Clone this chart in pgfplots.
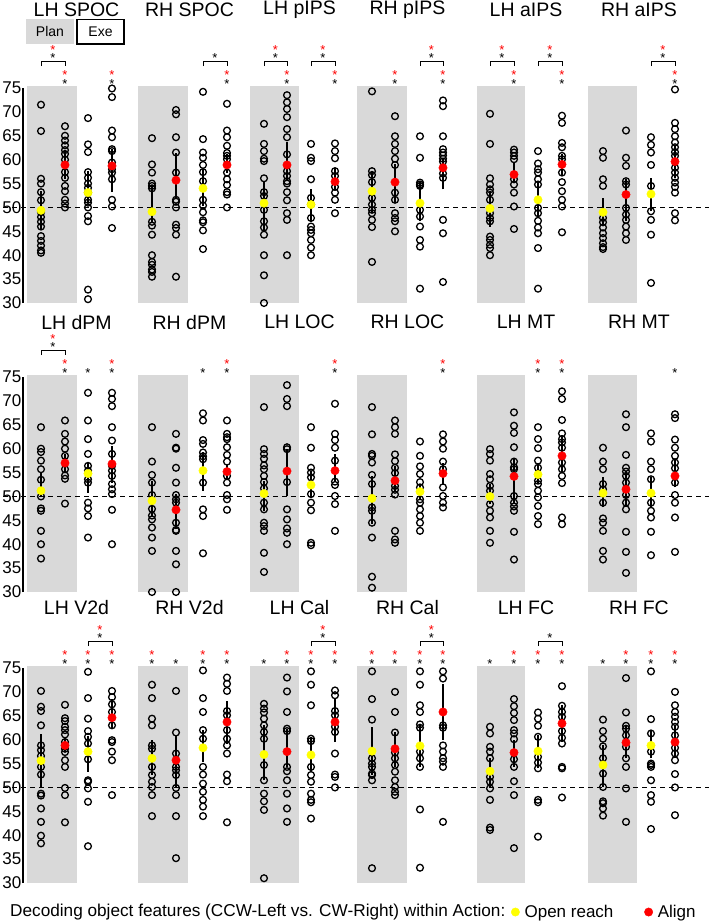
\documentclass[border=0pt]{standalone}
\usepackage{pgfplots}
\pgfplotsset{compat=1.18}
\usepackage{fontspec}
\setmainfont{Liberation Sans}

\definecolor{shadegray}{HTML}{D9D9D9}
\definecolor{meanyel}{HTML}{FFFF00}
\definecolor{meanred}{HTML}{FF0000}

\pgfplotsset{
  row/.style={
    scale only axis, width=686pt, height=215pt,
    xmin=23, xmax=709, ymin=30, ymax=75,
    clip=false, axis x line=none, axis y line=left,
    axis line style={-, line width=1.3pt},
    ytick={30,35,...,75}, major tick length=0pt,
    yticklabel style={font=\fontsize{17}{20}\selectfont, inner sep=1.5pt},
    /pgf/number format/assume math mode=true,
    anchor=south west,
  },
  pts/.style={only marks, mark=o, mark size=3.4pt, black, mark options={line width=1.3pt}, forget plot},
  ebar/.style={black, line width=1.5pt, no marks, forget plot},
  mean/.style={only marks, mark=*, mark size=4.2pt, mark options={draw=none}, forget plot},
  shd/.style={fill=shadegray, draw=none, no marks, forget plot},
  dsh/.style={black, line width=1.3pt, dash pattern=on 5pt off 4pt, no marks, forget plot},
}
\tikzset{
  star/.style={font=\fontsize{13}{13}\selectfont, inner sep=0pt, yshift=-3pt},
  ttl/.style={font=\fontsize{19.5}{22}\selectfont},
  brk/.style={line width=1pt},
}
% one column of subjects
\newcommand{\pts}[2]{\addplot[pts] table[x expr=#1, y index=0, header=false, row sep=\\] {#2};}
% x, lower, mean, upper, colour
\newcommand{\avg}[5]{\addplot[ebar] coordinates {(#1,#2) (#1,#4)};
  \addplot[mean, #5] coordinates {(#1,#3)};}
\newcommand{\planbox}[2]{\addplot[shd] coordinates {(#1,30) (#2,30) (#2,75.5) (#1,75.5)};}
\newcommand{\planrow}{\planbox{27}{77}\planbox{138}{188}\planbox{250}{299}\planbox{357}{407}\planbox{477}{525}\planbox{588}{637}}
\newcommand{\chance}{\addplot[dsh] coordinates {(3,50) (709,50)};}
% stars
\newcommand{\sB}[1]{\node[star] at (axis cs:#1,76.5) {*};}
\newcommand{\sRB}[1]{\sB{#1}\node[star, text=meanred] at (axis cs:#1,78.3) {*};}
\newcommand{\bB}[3]{\draw[brk] (axis cs:#1,79.6) |- (axis cs:#2,80.6) -- (axis cs:#2,79.6);
  \node[star] at (axis cs:#3,82) {*};}
\newcommand{\bRB}[3]{\bB{#1}{#2}{#3}\node[star, text=meanred] at (axis cs:#3,83.6) {*};}

\begin{document}
\begin{tikzpicture}
\useasboundingbox (0,0) rectangle (709pt,-922pt);

%% ---------------- row 1
\begin{axis}[row, at={(23pt,-303pt)}]
  \planrow
  \chance
  % LH SPOC
  \pts{41}{71.5\\66\\56\\55\\53.2\\51.5\\49\\48\\47\\46\\44\\43\\42\\41\\40.5\\}
  \pts{65}{67\\65\\64\\63\\62\\61.2\\60\\57.4\\56.2\\54.5\\53.4\\51.6\\50.8\\50\\}
  \pts{88}{68.7\\63.2\\61.6\\57.4\\56.2\\55\\54.1\\53.1\\51.6\\51\\50\\48.2\\47.1\\32.8\\30.8\\}
  \pts{112}{74.9\\73.1\\66.1\\64.7\\62.2\\61.8\\59.4\\58\\57.3\\55.9\\51.6\\50.2\\45.7\\}
  \avg{41}{45.3}{49.4}{53.4}{meanyel}
  \avg{65}{55.9}{58.9}{61.8}{meanred}
  \avg{88}{51}{53.1}{57.6}{meanyel}
  \avg{112}{53.2}{58.7}{62.3}{meanred}
  % RH SPOC
  \pts{152}{64.5\\59\\57.3\\55\\54.5\\54\\47\\46.2\\44.3\\40\\38.6\\38\\37\\36.5\\35.5\\}
  \pts{176}{70.4\\69.5\\64.7\\61.5\\57.3\\51.6\\51.2\\50\\46.4\\45.7\\44.3\\35.5\\}
  \pts{203}{74.2\\64.3\\61.5\\60.4\\58.9\\57.4\\55.5\\51.6\\50.4\\49\\47.3\\46.9\\45.2\\41.3\\}
  \pts{227}{71.7\\66.1\\64.7\\62.9\\61.4\\60.8\\60.1\\57.3\\55.9\\54.7\\53.2\\52.7\\50\\}
  \avg{152}{47}{49.1}{54.8}{meanyel}
  \avg{176}{51.8}{55.7}{61.4}{meanred}
  \avg{203}{50.2}{54}{58}{meanyel}
  \avg{227}{57.3}{58.9}{61.1}{meanred}
  % LH pIPS
  \pts{264}{67.5\\63.3\\61.8\\60.2\\59.7\\56.1\\53.2\\52.4\\49.5\\47.1\\45.8\\44.3\\40\\35.8\\30\\}
  \pts{287}{73.5\\72\\70.6\\68.9\\66.4\\64.7\\61.1\\57.6\\56.6\\55.5\\55\\53.2\\51.5\\48.8\\47.4\\40\\}
  \pts{311}{63.3\\60.4\\59.7\\55.9\\52\\50.6\\47.8\\46\\45.3\\44.6\\43.2\\41.6\\40\\}
  \pts{335}{63.4\\61.8\\60.3\\57.6\\56.6\\54.3\\53.1\\51.6\\48.8\\}
  \avg{264}{45.3}{50.9}{55.5}{meanyel}
  \avg{287}{55.5}{58.9}{63.7}{meanred}
  \avg{311}{47.1}{50.6}{53.9}{meanyel}
  \avg{335}{53.8}{55.4}{58.3}{meanred}
  % RH pIPS
  \pts{372}{74.3\\57.6\\56.8\\55.3\\52\\50.6\\49.5\\48.8\\47.4\\45.9\\38.6\\}
  \pts{395}{69.1\\64.9\\63.3\\61.8\\60.2\\58.9\\53.1\\51.6\\48.8\\47.8\\47.1\\45\\}
  \pts{420}{64.9\\60.4\\55.2\\54.8\\54.5\\49.5\\48.1\\46\\43.2\\41.8\\33\\}
  \pts{443}{72.4\\71.2\\64.9\\62.2\\61.5\\60.9\\60.2\\59.6\\57.1\\56.2\\47.4\\44.6\\34.4\\}
  \avg{372}{48.8}{53.4}{57.6}{meanyel}
  \avg{395}{51}{55.3}{59}{meanred}
  \avg{420}{47.1}{50.9}{55.2}{meanyel}
  \avg{443}{53.8}{58.3}{60.1}{meanred}
  % LH aIPS
  \pts{490}{69.6\\63.3\\56.1\\54.8\\53.8\\53.1\\51.6\\48.8\\47.8\\47.1\\43.9\\43.2\\42.2\\41.5\\40\\}
  \pts{514}{62.1\\61.5\\60.8\\60.1\\55.9\\54.8\\53.1\\50.2\\45.5\\}
  \pts{538}{61.8\\59.2\\58\\57.3\\55.9\\54.8\\49.9\\48.8\\47.2\\45.8\\44.6\\41.5\\33\\}
  \pts{562}{69.2\\67.7\\63.5\\62.6\\60.8\\60.1\\57.3\\55.3\\53.4\\51.6\\50.2\\44.8\\}
  \avg{490}{46}{49.8}{53.4}{meanyel}
  \avg{514}{55.3}{56.9}{59.4}{meanred}
  \avg{538}{47.8}{51.6}{55.5}{meanyel}
  \avg{562}{56.6}{59}{61.1}{meanred}
  % RH aIPS
  \pts{603}{61.8\\60.4\\55.9\\54.5\\47.8\\46.9\\45.8\\44.6\\43.6\\42.5\\41.7\\41.3\\}
  \pts{626}{66.1\\60.4\\58.7\\55.5\\54.8\\49.9\\48.5\\47.4\\46\\44.6\\43.2\\}
  \pts{651}{64.7\\63.1\\61.5\\58.9\\54.5\\49.2\\47.4\\44.3\\34.2\\}
  \pts{675}{74.7\\67.7\\66.4\\64.9\\63.6\\62.6\\61.6\\60.8\\58.3\\57.3\\56.2\\55.2\\54.3\\53.1\\48.8\\47.3\\}
  \avg{603}{46.4}{49}{52}{meanyel}
  \avg{626}{47.1}{52.7}{55.9}{meanred}
  \avg{651}{49.2}{52.8}{56.2}{meanyel}
  \avg{675}{56.2}{59.6}{62.9}{meanred}
  % Plan / Exe key
  \fill[shadegray] (axis cs:26,84.2) rectangle (axis cs:74,89.4);
  \node[font=\fontsize{14}{16}\selectfont] at (axis cs:50,86.8) {Plan};
  \draw[line width=1.3pt] (axis cs:77,84.2) rectangle (axis cs:124,89.4);
  \node[font=\fontsize{14}{16}\selectfont] at (axis cs:100.5,86.8) {Exe};
  % titles
  \node[ttl] at (axis cs:76.5,91.3) {LH SPOC};
  \node[ttl] at (axis cs:189.5,91.3) {RH SPOC};
  \node[ttl] at (axis cs:299.5,91.3) {LH pIPS};
  \node[ttl] at (axis cs:407.5,91.3) {RH pIPS};
  \node[ttl] at (axis cs:526,91.3) {LH aIPS};
  \node[ttl] at (axis cs:639,91.3) {RH aIPS};
  % significance
  \bRB{41}{65}{53}\sRB{65}\sRB{112}
  \bB{203}{227}{215}\sRB{227}
  \bRB{264}{287}{275.5}\sRB{287}\bRB{311}{335}{323}\sRB{335}
  \sRB{395}\bRB{420}{443}{431.5}\sRB{443}
  \bRB{490}{514}{502}\sRB{514}\bRB{538}{562}{550}\sRB{562}
  \bRB{651}{675}{663}\sRB{675}
\end{axis}

%% ---------------- row 2
\begin{axis}[row, at={(23pt,-592pt)}]
  \planrow
  \chance
  % LH dPM
  \pts{41}{64.5\\60\\59.3\\57.5\\55.7\\53.5\\50\\47.5\\47\\42.8\\40\\37\\}
  \pts{65}{65.9\\63.1\\61.5\\60\\58.5\\55.7\\54.4\\53.7\\48.5\\}
  \pts{88}{71.7\\65.9\\62\\58.9\\56.4\\55.4\\53.6\\52.9\\48.7\\47.5\\45.9\\41.4\\}
  \pts{112}{71.7\\70.4\\68.9\\64.5\\61.7\\58.9\\56.4\\55.4\\54.3\\52.6\\51.5\\50.5\\47.2\\40\\}
  \avg{41}{49.8}{51.2}{55.1}{meanyel}
  \avg{65}{55}{57}{58.9}{meanred}
  \avg{88}{50.8}{54.8}{57.1}{meanyel}
  \avg{112}{52.9}{56.8}{60.6}{meanred}
  % RH dPM
  \pts{152}{64.5\\57.3\\54.5\\52.9\\50.3\\47.4\\46\\45.2\\43.5\\41.4\\38.6\\30\\}
  \pts{176}{63.1\\60.2\\60\\56\\52.9\\50.3\\49.4\\48.7\\44.5\\43\\42.8\\38.6\\35.8\\30\\}
  \pts{203}{67.4\\65.9\\61.8\\61\\59.2\\58.4\\57.8\\52.9\\47.3\\45.9\\38.1\\}
  \pts{227}{65.9\\63.1\\62.4\\62\\60.3\\58.7\\57.3\\54.3\\52.9\\50.3\\49.4\\47.2\\}
  \avg{152}{45.9}{49.1}{53.3}{meanyel}
  \avg{176}{43.1}{47.2}{50.5}{meanred}
  \avg{203}{51.2}{55.4}{59.4}{meanyel}
  \avg{227}{53.6}{55.2}{56.8}{meanred}
  % LH LOC
  \pts{264}{68.7\\59.9\\58.9\\57.9\\56.5\\55.7\\54.3\\53\\51.7\\48.7\\47.3\\44.5\\43.8\\42.8\\38.2\\34.2\\}
  \pts{287}{73.3\\70.4\\68.9\\60.3\\59.9\\53\\47.3\\45.2\\43.3\\42.4\\40\\}
  \pts{311}{64.5\\60.2\\56\\55\\54\\50.5\\48.7\\47.1\\40.3\\39.8\\}
  \pts{335}{69.4\\63.1\\61.8\\60.2\\57.5\\53.1\\52.4\\50.1\\48.4\\42.8\\}
  \avg{264}{47}{50.6}{53.3}{meanyel}
  \avg{287}{50.1}{55.3}{59.9}{meanred}
  \avg{311}{49.8}{52.4}{55.4}{meanyel}
  \avg{335}{53.3}{55.4}{58.9}{meanred}
  % RH LOC
  \pts{372}{68.7\\63\\58.9\\58.5\\57.1\\54.5\\52.6\\47.7\\47\\44.5\\41.4\\33.2\\30.9\\}
  \pts{395}{65.9\\64.5\\63.1\\58.8\\57.4\\56\\54.9\\52.2\\51.4\\50.4\\42.8\\41\\40.3\\}
  \pts{420}{61.5\\58.5\\56.3\\54.7\\53\\51.9\\49.4\\48.7\\47.3\\45.9\\44.5\\42.8\\}
  \pts{443}{63\\61.5\\60\\57.3\\55.7\\51.9\\50.1\\48.7\\47.7\\}
  \avg{372}{44.2}{49.6}{54.3}{meanyel}
  \avg{395}{51.2}{53.3}{56.4}{meanred}
  \avg{420}{49.4}{51}{52.2}{meanyel}
  \avg{443}{52.6}{54.8}{57.1}{meanred}
  % LH MT
  \pts{490}{59.9\\58.9\\57.5\\54.7\\53.6\\52.2\\51.2\\48.4\\47\\45.6\\42.8\\40.3\\}
  \pts{514}{67.6\\64.8\\63.3\\60.3\\57.3\\56.1\\55.7\\50.1\\48.7\\47.9\\47\\42.6\\36.8\\}
  \pts{538}{64.5\\62\\60.1\\57.5\\56\\53.3\\52.6\\51.2\\49.8\\48\\45.9\\44.2\\}
  \pts{562}{72\\70.4\\66\\63.2\\62\\61.3\\60.2\\57.1\\55.7\\54.3\\52.8\\45.6\\44.2\\}
  \avg{490}{48.4}{50}{52.6}{meanyel}
  \avg{514}{48.7}{54.2}{57.8}{meanred}
  \avg{538}{52.6}{54.6}{56.8}{meanyel}
  \avg{562}{55}{58.5}{62.8}{meanred}
  % RH MT
  \pts{603}{60.2\\57.3\\55.7\\52.6\\51.5\\48.7\\45.4\\44.5\\42.8\\38.6\\36.8\\}
  \pts{626}{67.2\\64.5\\58.7\\56\\55.2\\54.3\\52.9\\50.3\\48.7\\47.3\\42.6\\38.4\\34\\}
  \pts{651}{63.2\\61.5\\57.3\\55.7\\53.6\\48.7\\47\\45.6\\42.6\\37.7\\}
  \pts{675}{67.2\\66.4\\61.9\\60.2\\58.5\\57.1\\55.9\\52.9\\50.3\\48.7\\45.6\\38.4\\}
  \avg{603}{47.7}{50.7}{54}{meanyel}
  \avg{626}{48}{51.5}{55.4}{meanred}
  \avg{651}{47.7}{50.7}{54}{meanyel}
  \avg{675}{51.9}{54.3}{57.8}{meanred}
  % titles
  \node[ttl] at (axis cs:76.5,86.5) {LH dPM};
  \node[ttl] at (axis cs:189.5,86.5) {RH dPM};
  \node[ttl] at (axis cs:299.5,86.5) {LH LOC};
  \node[ttl] at (axis cs:407.5,86.5) {RH LOC};
  \node[ttl] at (axis cs:526,86.5) {LH MT};
  \node[ttl] at (axis cs:639,86.5) {RH MT};
  % significance
  \bRB{41}{65}{53}\sRB{65}\sB{88}\sRB{112}
  \sB{203}\sRB{227}
  \sRB{335}
  \sRB{443}
  \sRB{538}\sRB{562}
  \sB{675}
\end{axis}

%% ---------------- row 3
\begin{axis}[row, at={(23pt,-883pt)},
  legend style={at={(axis description cs:0.707,-0.135)}, anchor=west, draw=none, fill=none,
    font=\fontsize{17}{20}\selectfont, legend columns=-1,
    /tikz/every odd column/.append style={column sep=3pt},
    /tikz/every even column/.append style={column sep=29pt}}]
  \planrow
  \chance
  % LH V2d
  \pts{41}{70.2\\66.9\\66\\63\\58.8\\57.8\\56.6\\54.3\\52.7\\48.7\\48.3\\45.6\\42.8\\39.9\\38.3\\}
  \pts{65}{67.3\\64.5\\63.9\\62.7\\62\\61.1\\59.5\\58.1\\57.4\\55.7\\54.3\\49.9\\48.4\\42.7\\}
  \pts{88}{74.2\\68.7\\64.4\\61.8\\60.6\\59.2\\55.9\\51.5\\51.2\\49.8\\47\\37.7\\}
  \pts{112}{70.2\\68.9\\67.4\\65.8\\63\\59.9\\59.5\\57.5\\55.7\\48.4\\}
  \avg{41}{50.1}{55.6}{61.1}{meanyel}
  \avg{65}{57.5}{58.8}{60.6}{meanred}
  \avg{88}{53.3}{57.5}{60.8}{meanyel}
  \avg{112}{62.3}{64.6}{68.5}{meanred}
  % RH V2d
  \pts{152}{71.5\\68.7\\64.4\\63\\58.8\\58.1\\54.3\\52.6\\51.2\\50.1\\48.4\\44\\}
  \pts{176}{70.2\\61.5\\57.1\\54.3\\53.6\\52.6\\49.9\\48.4\\44\\35.2\\}
  \pts{203}{74.5\\68.7\\65.8\\62\\60.2\\54.3\\52.7\\50.8\\49.1\\47.4\\46\\44\\}
  \pts{227}{73\\71.7\\70.2\\66\\65.1\\62\\60.2\\58.8\\57.1\\52.7\\51.3\\42.7\\}
  \avg{152}{52.6}{56.1}{59.9}{meanyel}
  \avg{176}{50.1}{55.7}{60.9}{meanred}
  \avg{203}{55.4}{58.3}{62}{meanyel}
  \avg{227}{59.2}{63.7}{68.2}{meanred}
  % LH Cal
  \pts{264}{67.5\\66.5\\65.7\\64.4\\63\\61.6\\60.2\\54.7\\51.5\\48.7\\47.1\\45.3\\31\\}
  \pts{287}{73\\70.1\\65.8\\62.3\\61.8\\54.3\\53.4\\51.5\\48.7\\45.6\\42.8\\}
  \pts{311}{74.3\\71.5\\67.2\\60.2\\59.7\\54.3\\52.6\\51.2\\48.7\\47.4\\46.9\\43.5\\}
  \pts{335}{70.3\\69.3\\66\\65.1\\62.7\\61.6\\57.1\\52.7\\52.2\\50\\}
  \avg{264}{51.5}{56.9}{63}{meanyel}
  \avg{287}{54.3}{57.5}{62.3}{meanred}
  \avg{311}{53.3}{56.8}{60.6}{meanyel}
  \avg{335}{59.5}{63.7}{68.6}{meanred}
  % RH Cal
  \pts{372}{74.3\\68.5\\64.2\\56.1\\55\\54.3\\52.9\\52.6\\51.5\\33.1\\}
  \pts{395}{70\\65.8\\61.5\\57.3\\56.1\\54.7\\53.3\\51.5\\50.1\\49.1\\48.4\\}
  \pts{420}{74.3\\71.5\\67.2\\65.8\\63.2\\62.5\\57.5\\56.1\\54.3\\45.4\\33.2\\}
  \pts{443}{74.3\\72.8\\63\\62.5\\58.8\\57.5\\56.1\\55.4\\54.3\\42.8\\}
  \avg{372}{52.6}{57.6}{62.7}{meanyel}
  \avg{395}{54.3}{58.1}{61.6}{meanred}
  \avg{420}{54.3}{58.7}{63}{meanyel}
  \avg{443}{60}{65.8}{71.7}{meanred}
  % LH FC
  \pts{490}{62.7\\61.3\\58.5\\57.5\\56.1\\52.2\\51.2\\49.8\\47.4\\41.6\\41.1\\}
  \pts{514}{68.5\\67\\65.6\\64.1\\62\\61.3\\60.1\\55.9\\54.3\\51.3\\48.4\\37.3\\}
  \pts{538}{65.7\\64.4\\62.9\\60.6\\56.4\\55.2\\54\\47.4\\46.9\\39.7\\}
  \pts{562}{71.2\\67.1\\65.8\\64.8\\61.8\\60.4\\59.2\\54.3\\54\\47.9\\}
  \avg{490}{50.1}{53.4}{56.1}{meanyel}
  \avg{514}{54.3}{57.3}{59.9}{meanred}
  \avg{538}{54}{57.6}{60.9}{meanyel}
  \avg{562}{59.5}{63.4}{67.2}{meanred}
  % RH FC
  \pts{603}{64.2\\61.8\\60.2\\58.6\\56.1\\52.9\\50.1\\47.1\\46.7\\45.6\\44.1\\}
  \pts{626}{72.9\\65.7\\62.9\\62.3\\60.9\\58.5\\56.1\\54.3\\49.8\\42.8\\}
  \pts{651}{74.3\\64.3\\61.3\\57.5\\55\\54.7\\54.3\\51.5\\48.4\\47\\41.3\\}
  \pts{675}{70\\67.2\\65.8\\64.8\\63.7\\62.7\\60.9\\58.3\\57.1\\55.7\\52.8\\50\\44.2\\}
  \avg{603}{50.1}{54.7}{58.8}{meanyel}
  \avg{626}{56.1}{59.4}{62.9}{meanred}
  \avg{651}{56.1}{58.8}{62}{meanyel}
  \avg{675}{56.1}{59.5}{63}{meanred}
  % titles
  \node[ttl] at (axis cs:76.5,87.6) {LH V2d};
  \node[ttl] at (axis cs:189.5,87.6) {RH V2d};
  \node[ttl] at (axis cs:299.5,87.6) {LH Cal};
  \node[ttl] at (axis cs:407.5,87.6) {RH Cal};
  \node[ttl] at (axis cs:526,87.6) {LH FC};
  \node[ttl] at (axis cs:639,87.6) {RH FC};
  % significance
  \sRB{65}\sRB{88}\sRB{112}\bRB{88}{112}{100}
  \sRB{152}\sB{176}\sRB{203}\sRB{227}
  \sB{264}\sRB{287}\sRB{311}\sRB{335}\bRB{311}{335}{323}
  \sRB{372}\sRB{395}\sRB{420}\sRB{443}\bRB{420}{443}{431.5}
  \sB{490}\sRB{514}\sRB{538}\sRB{562}\bB{538}{562}{550}
  \sB{603}\sRB{626}\sRB{651}\sRB{675}
  % key
  \node[anchor=west, inner sep=0pt, font=\fontsize{17.2}{20}\selectfont] at (axis cs:10,23.9)
    {Decoding object features (CCW-Left vs. CW-Right) within Action:};
  \addlegendimage{only marks, mark=*, mark size=4.2pt, meanyel, mark options={draw=none}}
  \addlegendentry{Open reach}
  \addlegendimage{only marks, mark=*, mark size=4.2pt, meanred, mark options={draw=none}}
  \addlegendentry{Align}
\end{axis}
\end{tikzpicture}
\end{document}
